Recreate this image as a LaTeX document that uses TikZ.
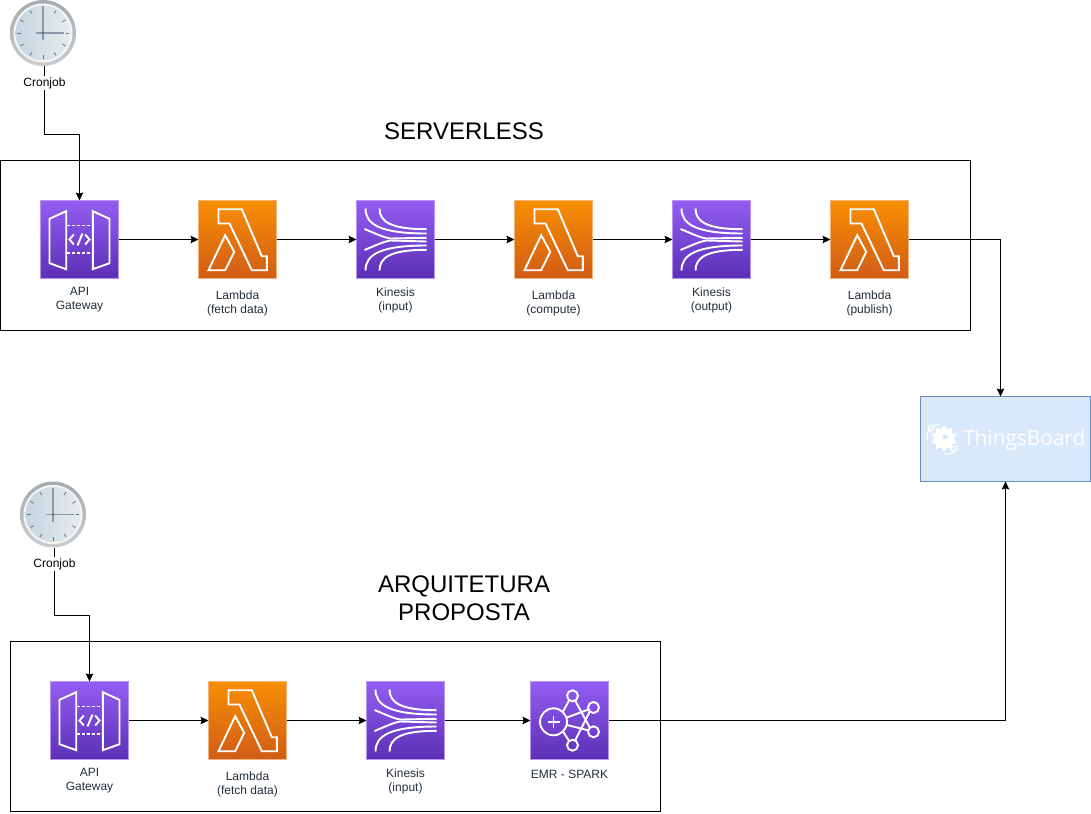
\documentclass[tikz,border=0pt]{standalone}
\usepackage{fontspec}
\setmainfont{Liberation Sans}
\newfontfamily\tbfont{Open Sans}
\usetikzlibrary{arrows.meta,shapes.geometric,shadings}
\definecolor{awsink}{HTML}{232F3E}
\definecolor{purpletop}{HTML}{945DF2}
\definecolor{purplebot}{HTML}{5A30B5}
\definecolor{orangetop}{HTML}{F78E04}
\definecolor{orangebot}{HTML}{D05C17}
\definecolor{purpleedge}{HTML}{B794F6}
\definecolor{orangeedge}{HTML}{F5B27A}
\definecolor{tbfill}{HTML}{DAE8FC}
\definecolor{tbedge}{HTML}{6C8EBF}
\definecolor{clockrim}{HTML}{A4ACB0}
\definecolor{clockrimlow}{HTML}{C8CDD0}
\definecolor{faceleft}{HTML}{C6D5DF}
\definecolor{faceright}{HTML}{E6EBED}
\definecolor{clockhand}{HTML}{8C9AA8}
\definecolor{clocktick}{HTML}{66727C}
\tikzset{
  x=1pt,y=-1pt,
  iconbox/.style={rectangle,minimum size=78pt,inner sep=0pt,outer sep=0pt,line width=0.8pt},
  purplebox/.style={iconbox,draw=purpleedge,top color=purpletop,bottom color=purplebot},
  orangebox/.style={iconbox,draw=orangeedge,top color=orangetop,bottom color=orangebot},
  glyph/.style={draw=white,line width=1.9pt,line join=miter,fill=none},
  caption/.style={font=\fontsize{12}{14}\selectfont,text=awsink,align=center,inner sep=0pt},
  title/.style={font=\fontsize{24}{28}\selectfont,text=black,align=center,inner sep=0pt},
  cronlabel/.style={font=\fontsize{12}{14}\selectfont,text=black,fill=white,inner sep=1pt},
  frame/.style={draw=black,line width=0.8pt,fill=none},
  link/.style={draw=black,line width=0.8pt,-{Stealth[length=8pt,width=7.5pt,inset=1.2pt]}},
  clockface/.style={circle,minimum size=66pt,inner sep=0pt,outer sep=0pt}
}
\newcommand\apiglyph[1]{\begin{scope}[shift={(#1.center)}]
  \draw[glyph] (-30,-20.7) -- (-13.3,-28.3) -- (-13.3,29.7) -- (-30,23.7) -- cycle;
  \draw[glyph] (30,-20.7) -- (13.3,-28.3) -- (13.3,29.7) -- (30,23.7) -- cycle;
  \draw[glyph,dash pattern=on 3pt off 2pt] (-13,-14) -- (13,-14);
  \draw[glyph,dash pattern=on 3pt off 2pt] (-13,13.7) -- (13,13.7);
  \draw[glyph] (-5.7,-5) -- (-10,0) -- (-5.7,5);
  \draw[glyph] (5.7,-5) -- (10,0) -- (5.7,5);
  \draw[glyph] (3,-6) -- (-2,6);
\end{scope}}
\newcommand\lambdaglyph[1]{\begin{scope}[shift={(#1.center)}]
  \draw[glyph] (-19,-30.3) -- (4.3,-30.3) -- (24.3,16.7) -- (29.3,16.7) -- (29.3,30.7) -- (14.3,30.7) -- (-8,-16) -- (-19,-16) -- cycle;
  \draw[glyph] (-12.3,-4.3) -- (-3.3,12.3) -- (-12.3,30.7) -- (-29,30.7) -- cycle;
\end{scope}}
\newcommand\kinesisglyph[1]{\begin{scope}[shift={(#1.center)}]
  \draw[glyph] (-16,-31) .. controls (-16,-18) and (-5,-10.3) .. (31,-10.3);
  \draw[glyph] (-30,-31) .. controls (-30,-15) and (-15,-6) .. (31,-6);
  \draw[glyph] (-31,-10.5) .. controls (-20,-6) and (-12,-2) .. (-5,-1) -- (31,-1.7);
  \draw[glyph] (-31,10.5) .. controls (-20,6) and (-12,2) .. (-5,1) -- (31,2);
  \draw[glyph] (-30,31) .. controls (-30,15) and (-15,6) .. (31,6);
  \draw[glyph] (-16,31) .. controls (-16,18) and (-5,10.3) .. (31,10.3);
\end{scope}}
\newcommand\emrglyph[1]{\begin{scope}[shift={(#1.center)}]
  \draw[glyph] (-16,1.3) circle (13.5);
  \draw[glyph] (-22,1.3) -- (-10,1.3) (-16,-4.7) -- (-16,7.3);
  \draw[glyph] (3,-24.7) circle (5.5) (24,-13) circle (5.5) (24,11.3) circle (5.5) (3,24.7) circle (5.5);
  \draw[glyph] (-6.5,-9) -- (-0.5,-20);
  \draw[glyph] (-6.5,11) -- (-0.5,20.3);
  \draw[glyph] (-2.5,-3) -- (18.8,-11);
  \draw[glyph] (-2.5,4.5) -- (18.8,9.8);
  \draw[glyph] (5.7,-19.8) -- (20.3,7);
  \draw[glyph] (5.7,19.8) -- (20.3,-9);
\end{scope}}
\newcommand\clockglyph[1]{\begin{scope}[shift={(#1.center)}]
  \shade[top color=clockrim,bottom color=clockrimlow] (0,0) circle (33);
  \fill[white!92!gray] (0,0) circle (29.5);
  \shade[left color=faceleft,right color=faceright] (0,0) circle (27.5);
  \foreach \a in {0,30,...,330}{\draw[clocktick,line width=0.8pt] (\a:22.5) -- (\a:26);}
  \draw[clockhand,line width=1.3pt] (0,7) -- (0,-27);
  \draw[clockhand,line width=1.3pt] (-7,0) -- (21,0);
  \fill[clocktick] (0,0) circle (1.5);
\end{scope}}
\begin{document}
\begin{tikzpicture}
\fill[white] (0,0) rectangle (1091,813);
\useasboundingbox (0,0) rectangle (1091,813);

% Frames
\node[frame,rectangle,minimum width=970pt,minimum height=170pt,inner sep=0pt,anchor=north west] (serverlessframe) at (0,160) {};
\node[frame,rectangle,minimum width=650pt,minimum height=170pt,inner sep=0pt,anchor=north west] (propostaframe) at (10,641) {};

% Titles
\node[title] (serverlesstitle) at (464,131) {SERVERLESS};
\node[title] (propostatitle) at (464,598) {ARQUITETURA\\PROPOSTA};

% Top row
\node[purplebox] (api1) at (79.5,239.5) {};
\node[orangebox] (fetch1) at (237.5,239.5) {};
\node[purplebox] (kin1) at (395.5,239.5) {};
\node[orangebox] (compute) at (553.5,239.5) {};
\node[purplebox] (kin2) at (711.5,239.5) {};
\node[orangebox] (publish) at (869.5,239.5) {};
\apiglyph{api1}\lambdaglyph{fetch1}\kinesisglyph{kin1}\lambdaglyph{compute}\kinesisglyph{kin2}\lambdaglyph{publish}

% Bottom row
\node[purplebox] (api2) at (89.5,720.5) {};
\node[orangebox] (fetch2) at (247.5,720.5) {};
\node[purplebox] (kin3) at (405.5,720.5) {};
\node[purplebox] (emr) at (569.5,720.5) {};
\apiglyph{api2}\lambdaglyph{fetch2}\kinesisglyph{kin3}\emrglyph{emr}

% ThingsBoard
\node[rectangle,draw=tbedge,fill=tbfill,line width=0.8pt,minimum width=170pt,minimum height=85pt,inner sep=0pt,anchor=north west] (tb) at (920,396) {};
\node[font=\tbfont\fontsize{20.8}{24}\selectfont,text=white,inner sep=0pt,anchor=west] (tbtext) at (963,440) {ThingsBoard};
\node[star,star points=10,star point ratio=1.4,fill=white,minimum size=27pt,inner sep=0pt] (tbgear) at (944,438.5) {};
\fill[tbfill] (945,437) circle (2.5);
\draw[white,line width=1pt] (928,441) .. controls (925,432) and (930,425) .. (940,424);
\draw[white,line width=1pt] (931,428) circle (3);
\draw[white,line width=1pt] (944,454) .. controls (950,455) and (956,452) .. (958,445);
\draw[white,line width=1pt] (954,449) circle (3);

% Clocks
\node[clockface] (clock1) at (43,33) {};
\node[clockface] (clock2) at (53,514.5) {};
\clockglyph{clock1}\clockglyph{clock2}

% Connectors
\coordinate (c1start) at (44.5,66);
\coordinate (c1mid) at (44.5,134);
\coordinate (c2start) at (54.5,548);
\coordinate (c2mid) at (54.5,615);
\draw[link] (c1start) -- (c1mid) -| (api1.north);
\draw[link] (c2start) -- (c2mid) -| (api2.north);
\draw[link] (api1) -- (fetch1);
\draw[link] (fetch1) -- (kin1);
\draw[link] (kin1) -- (compute);
\draw[link] (compute) -- (kin2);
\draw[link] (kin2) -- (publish);
\draw[link] (api2) -- (fetch2);
\draw[link] (fetch2) -- (kin3);
\draw[link] (kin3) -- (emr);
\coordinate (tbtop) at (1000.5,396.5);
\coordinate (tbbot) at (1005.5,481.5);
\draw[link] (publish.east) -| (tbtop);
\draw[link] (emr.east) -| (tbbot);

% Labels
\node[cronlabel] (cron1) at (44.5,83) {Cronjob};
\node[cronlabel] (cron2) at (54.5,564) {Cronjob};
\node[caption] (l1) at (79.5,300) {API\\Gateway};
\node[caption] (l2) at (237.5,303) {Lambda\\(fetch data)};
\node[caption] (l3) at (395.5,300) {Kinesis\\(input)};
\node[caption] (l4) at (553.5,303) {Lambda\\(compute)};
\node[caption] (l5) at (711.5,300) {Kinesis\\(output)};
\node[caption] (l6) at (869.5,303) {Lambda\\(publish)};
\node[caption] (l7) at (89.5,781) {API\\Gateway};
\node[caption] (l8) at (247.5,784) {Lambda\\(fetch data)};
\node[caption] (l9) at (405.5,781) {Kinesis\\(input)};
\node[caption] (l10) at (569.5,774) {EMR - SPARK};
\end{tikzpicture}
\end{document}
